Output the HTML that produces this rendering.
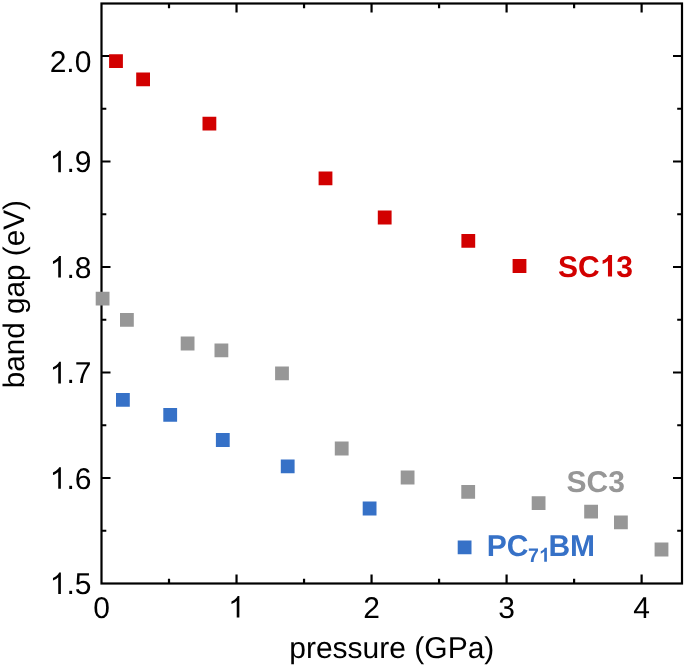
<!DOCTYPE html>
<html><head><meta charset="utf-8"><style>
html,body{margin:0;padding:0;background:#fff;}
svg{display:block;will-change:transform;}
.t{text-rendering:geometricPrecision;font-family:"Liberation Sans",sans-serif;font-size:30px;fill:#000;}
.b{text-rendering:geometricPrecision;font-family:"Liberation Sans",sans-serif;font-size:30px;font-weight:bold;}
</style></head><body>
<svg width="685" height="667" viewBox="0 0 685 667">
<path d="M169.01 583.5V578.70M169.01 3.5V8.30M236.53 583.5V574.50M236.53 3.5V12.50M304.05 583.5V578.70M304.05 3.5V8.30M371.56 583.5V574.50M371.56 3.5V12.50M439.07 583.5V578.70M439.07 3.5V8.30M506.59 583.5V574.50M506.59 3.5V12.50M574.11 583.5V578.70M574.11 3.5V8.30M641.62 583.5V574.50M641.62 3.5V12.50M101.5 530.75H106.30M682.0 530.75H677.20M101.5 478.00H110.50M682.0 478.00H673.00M101.5 425.25H106.30M682.0 425.25H677.20M101.5 372.50H110.50M682.0 372.50H673.00M101.5 319.75H106.30M682.0 319.75H677.20M101.5 267.00H110.50M682.0 267.00H673.00M101.5 214.25H106.30M682.0 214.25H677.20M101.5 161.50H110.50M682.0 161.50H673.00M101.5 108.75H106.30M682.0 108.75H677.20M101.5 56.00H110.50M682.0 56.00H673.00" stroke="#000" stroke-width="2.2" fill="none"/>
<rect x="101.5" y="3.5" width="580.5" height="580.0" stroke="#000" stroke-width="2.2" fill="none"/>
<path d="M109.10 54.30h13.8v13.8h-13.8zM136.20 72.50h13.8v13.8h-13.8zM202.50 116.80h13.8v13.8h-13.8zM318.60 171.40h13.8v13.8h-13.8zM377.80 210.60h13.8v13.8h-13.8zM461.40 234.00h13.8v13.8h-13.8zM512.60 259.10h13.8v13.8h-13.8z" fill="#d20000"/>
<path d="M95.70 291.80h13.8v13.8h-13.8zM120.00 312.90h13.8v13.8h-13.8zM180.70 336.60h13.8v13.8h-13.8zM214.50 343.40h13.8v13.8h-13.8zM275.10 366.40h13.8v13.8h-13.8zM334.80 441.60h13.8v13.8h-13.8zM400.70 470.60h13.8v13.8h-13.8zM461.30 485.00h13.8v13.8h-13.8zM531.70 496.30h13.8v13.8h-13.8zM584.20 504.80h13.8v13.8h-13.8zM614.00 515.50h13.8v13.8h-13.8zM654.60 542.60h13.8v13.8h-13.8z" fill="#979797"/>
<path d="M116.00 393.00h13.8v13.8h-13.8zM163.30 408.00h13.8v13.8h-13.8zM215.90 433.10h13.8v13.8h-13.8zM280.80 459.40h13.8v13.8h-13.8zM362.70 501.60h13.8v13.8h-13.8zM457.70 540.50h13.8v13.8h-13.8z" fill="#3671c7"/>
<text x="49.70" y="71.6" class="t" style="font-size:30px" fill="#000">2.0</text>
<path transform="matrix(0.014648 0 0 -0.014648 49.70 172.2)" d="M763 0H583V1147Q518 1085 465 1054Q412 1023 359.5 992Q307 961 223 930V1104Q374 1175 430.5 1225.5Q487 1276 543.5 1326.5Q600 1377 647 1472H763Z" fill="#000"/>
<text x="66.38" y="172.2" class="t" style="font-size:30px" fill="#000">.9</text>
<path transform="matrix(0.014648 0 0 -0.014648 49.70 277.5)" d="M763 0H583V1147Q518 1085 465 1054Q412 1023 359.5 992Q307 961 223 930V1104Q374 1175 430.5 1225.5Q487 1276 543.5 1326.5Q600 1377 647 1472H763Z" fill="#000"/>
<text x="66.38" y="277.5" class="t" style="font-size:30px" fill="#000">.8</text>
<path transform="matrix(0.014648 0 0 -0.014648 49.70 383.4)" d="M763 0H583V1147Q518 1085 465 1054Q412 1023 359.5 992Q307 961 223 930V1104Q374 1175 430.5 1225.5Q487 1276 543.5 1326.5Q600 1377 647 1472H763Z" fill="#000"/>
<text x="66.38" y="383.4" class="t" style="font-size:30px" fill="#000">.7</text>
<path transform="matrix(0.014648 0 0 -0.014648 49.70 488.7)" d="M763 0H583V1147Q518 1085 465 1054Q412 1023 359.5 992Q307 961 223 930V1104Q374 1175 430.5 1225.5Q487 1276 543.5 1326.5Q600 1377 647 1472H763Z" fill="#000"/>
<text x="66.38" y="488.7" class="t" style="font-size:30px" fill="#000">.6</text>
<path transform="matrix(0.014648 0 0 -0.014648 49.70 594.1)" d="M763 0H583V1147Q518 1085 465 1054Q412 1023 359.5 992Q307 961 223 930V1104Q374 1175 430.5 1225.5Q487 1276 543.5 1326.5Q600 1377 647 1472H763Z" fill="#000"/>
<text x="66.38" y="594.1" class="t" style="font-size:30px" fill="#000">.5</text>
<text x="93.16" y="617.6" class="t" style="font-size:30px" fill="#000">0</text>
<path transform="matrix(0.014648 0 0 -0.014648 228.19 617.6)" d="M763 0H583V1147Q518 1085 465 1054Q412 1023 359.5 992Q307 961 223 930V1104Q374 1175 430.5 1225.5Q487 1276 543.5 1326.5Q600 1377 647 1472H763Z" fill="#000"/>
<text x="363.22" y="617.6" class="t" style="font-size:30px" fill="#000">2</text>
<text x="498.25" y="617.6" class="t" style="font-size:30px" fill="#000">3</text>
<text x="633.28" y="617.6" class="t" style="font-size:30px" fill="#000">4</text>
<text x="391.8" y="657.7" text-anchor="middle" class="t" style="font-size:30px">pressure (GPa)</text>
<text transform="translate(24.3 294.2) rotate(-90)" text-anchor="middle" class="t" style="font-size:29.7px">band gap (eV)</text>
<text x="558.00" y="276.5" class="b" style="font-size:30px" fill="#d20000">SC</text>
<path transform="matrix(0.014648 0 0 -0.014648 599.67 276.5)" d="M846 0H565V1059Q411 915 202 846V1101Q312 1137 441 1237Q570 1337 618 1472H846Z" fill="#d20000"/>
<text x="616.36" y="276.5" class="b" style="font-size:30px" fill="#d20000">3</text>
<text x="566.50" y="492.3" class="b" style="font-size:30px" fill="#979797">SC3</text>
<text x="486.70" y="555.5" class="b" style="font-size:30px" fill="#3671c7">PC</text>
<text x="528.00" y="561.7" class="b" style="font-size:19.5px" fill="#3671c7">7</text>
<path transform="matrix(0.009521 0 0 -0.009521 538.84 561.7)" d="M846 0H565V1059Q411 915 202 846V1101Q312 1137 441 1237Q570 1337 618 1472H846Z" fill="#3671c7"/>
<text x="548.40" y="555.5" class="b" style="font-size:30px" fill="#3671c7">BM</text>
</svg>
</body></html>
